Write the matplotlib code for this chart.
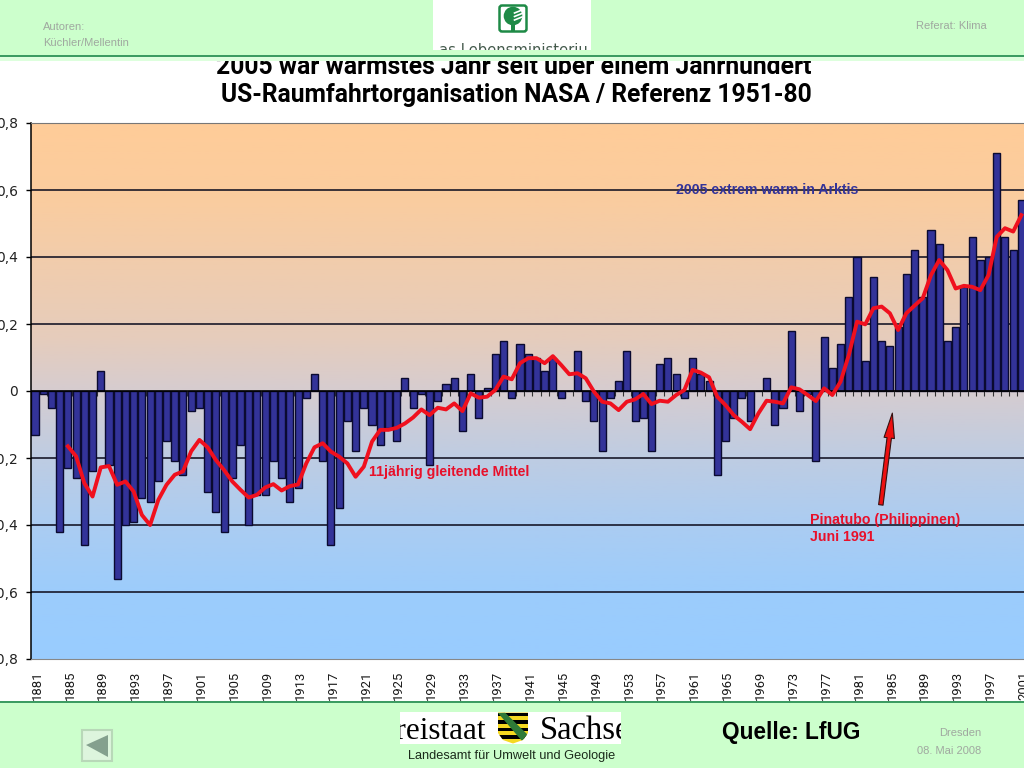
import numpy as np
import matplotlib
matplotlib.use("Agg")
import matplotlib.pyplot as plt
from matplotlib.patches import Rectangle, Circle, Polygon, FancyBboxPatch
from matplotlib.colors import LinearSegmentedColormap
from matplotlib.transforms import ScaledTranslation

years = list(range(1881, 2002))
anomaly = [-0.13, -0.01, -0.05, -0.42, -0.23, -0.26, -0.46, -0.24, 0.06, -0.22,
           -0.56, -0.40, -0.39, -0.32, -0.33, -0.27, -0.15, -0.21, -0.25, -0.06,
           -0.05, -0.30, -0.36, -0.42, -0.26, -0.16, -0.40, -0.31, -0.31, -0.21,
           -0.26, -0.33, -0.29, -0.02, 0.05, -0.21, -0.46, -0.35, -0.09, -0.18,
           -0.05, -0.10, -0.16, -0.11, -0.15, 0.04, -0.05, -0.01, -0.22, -0.03,
           0.02, 0.04, -0.12, 0.05, -0.08, 0.01, 0.11, 0.15, -0.02, 0.14,
           0.11, 0.10, 0.06, 0.10, -0.02, 0.00, 0.12, -0.03, -0.09, -0.18,
           -0.02, 0.03, 0.12, -0.09, -0.08, -0.18, 0.08, 0.10, 0.05, -0.02,
           0.10, 0.05, 0.03, -0.25, -0.15, -0.08, -0.02, -0.09, 0.00, 0.04,
           -0.10, -0.05, 0.18, -0.06, -0.01, -0.21, 0.16, 0.07, 0.14, 0.28,
           0.40, 0.09, 0.34, 0.15, 0.135, 0.19, 0.35, 0.42, 0.28, 0.48,
           0.44, 0.15, 0.19, 0.31, 0.46, 0.39, 0.40, 0.71, 0.46, 0.42, 0.57]

mean_years = list(range(1885, 2002))
running_mean = [-0.165, -0.195, -0.275, -0.315, -0.228, -0.224, -0.28, -0.27, -0.30, -0.37,
                -0.40, -0.325, -0.28, -0.25, -0.24, -0.18, -0.146, -0.168, -0.206, -0.236,
                -0.27, -0.295, -0.318, -0.31, -0.288, -0.278, -0.297, -0.284, -0.279, -0.216,
                -0.168, -0.156, -0.181, -0.196, -0.216, -0.256, -0.226, -0.151, -0.116, -0.116,
                -0.11, -0.097, -0.079, -0.055, -0.072, -0.05, -0.055, -0.037, -0.06, -0.007,
                -0.02, -0.017, 0.003, 0.043, 0.035, 0.083, 0.098, 0.098, 0.083, 0.104,
                0.078, 0.05, 0.053, 0.038, -0.002, -0.032, -0.037, -0.057, -0.032, -0.025,
                -0.009, -0.039, -0.029, -0.032, -0.012, 0.003, 0.063, 0.055, 0.041, -0.017,
                -0.042, -0.072, -0.092, -0.114, -0.067, -0.029, -0.032, -0.037, 0.011, 0.005,
                -0.012, -0.03, 0.008, -0.012, 0.028, 0.107, 0.207, 0.199, 0.247, 0.252,
                0.232, 0.182, 0.232, 0.255, 0.277, 0.346, 0.391, 0.361, 0.306, 0.314,
                0.311, 0.301, 0.346, 0.46, 0.486, 0.476, 0.525]

y_ticks = [0.8, 0.6, 0.4, 0.2, 0, -0.2, -0.4, -0.6, -0.8]
y_labels = ["0,8", "0,6", "0,4", "0,2", "0", "-0,2", "-0,4", "-0,6", "-0,8"]
x_tick_years = years[::4]

W, H = 1024, 768
fig = plt.figure(figsize=(W / 100, H / 100), dpi=100, facecolor="white")

# ---- chart -----
L, R, T, B = 31, 1024, 123, 659
STEP = 8.22
ax = fig.add_axes([L / W, 1 - B / H, (R - L) / W, (B - T) / H], zorder=1)
x0 = 1881 + (L - 35) / STEP
x1 = 1881 + (R - 35) / STEP
ax.set_xlim(x0, x1)
ax.set_ylim(-0.8, 0.8)
ax.set_autoscale_on(False)

cmap = LinearSegmentedColormap.from_list(
    "bg", [(0, "#FFCC99"), (0.13, "#FBCC9E"), (0.4, "#E6CCBC"), (0.5, "#D6CCD0"),
           (0.62, "#BFCCE2"), (0.75, "#ABCCF2"), (0.88, "#9CCCFC"), (1, "#99CCFF")])
ax.imshow(np.linspace(0, 1, 256).reshape(-1, 1), cmap=cmap, aspect="auto",
          extent=[x0, x1, -0.8, 0.8], zorder=0)

ax.hlines([0.6, 0.4, 0.2, -0.2, -0.4, -0.6], x0, x1, color="#111122", lw=1.15, zorder=1)
ax.bar(years, anomaly, width=0.86, color="#333399", edgecolor="#0a0a30", lw=1.0, zorder=2)
ax.vlines(np.array(years) - 0.5, -0.014, 0, color="#333333", lw=0.8, zorder=1.5)
ax.axhline(0, color="black", lw=1.2, zorder=3)
ax.plot(mean_years, running_mean, color="#F0101E", lw=2.8, solid_joinstyle="round", zorder=4)

ax.spines["right"].set_visible(False)
ax.spines["left"].set_color("black")
ax.spines["left"].set_linewidth(1.1)
ax.spines["top"].set_color("#777777")
ax.spines["bottom"].set_color("#888888")

ax.set_yticks(y_ticks)
ax.set_yticklabels(y_labels, fontsize=10, color="#222222")
ax.tick_params(axis="y", length=3.6, width=1.0, pad=5.8, color="black")
ax.set_xticks(x_tick_years)
ax.set_xticklabels([str(y) for y in x_tick_years], rotation=90, fontsize=9.4,
                   family="Roboto", color="#1a1a1a")
ax.tick_params(axis="x", length=0, pad=8.2)
shift = ScaledTranslation(1.5 / 72, 0, fig.dpi_scale_trans)
for lab in ax.get_xticklabels():
    lab.set_transform(lab.get_transform() + shift)

ax.annotate("", xy=(1985.3, -0.066), xytext=(1983.9, -0.34),
            arrowprops=dict(arrowstyle="simple,head_length=1.8,head_width=0.75,tail_width=0.32",
                            mutation_scale=10, fc="#EE1010", ec="#331111", lw=0.8,
                            shrinkA=0, shrinkB=0), zorder=6)

# ---- slide decoration in pixel coordinates -----
ov = fig.add_axes([0, 0, 1, 1], zorder=2)
ov.set_xlim(0, W)
ov.set_ylim(H, 0)
ov.axis("off")
ov.patch.set_alpha(0)

note = dict(family="Liberation Sans", weight="bold", fontsize=10.2, zorder=5, va="center", ha="left")
ov.text(676, 190, "2005 extrem warm in Arktis", color="#333399", **note)
ov.text(369, 472, "11jährig gleitende Mittel", color="#E8102A", **note)
ov.text(810, 520, "Pinatubo (Philippinen)", color="#E8102A", **note)
ov.text(810, 537, "Juni 1991", color="#E8102A", **note)

GREEN = "#CCFFCC"
ov.text(513.5, 74, "2005 war warmstes Jahr seit über einem Jahrhundert",
        family="Roboto", weight="bold", fontsize=17.8, ha="center", va="baseline", color="black", zorder=1)
ov.text(516, 102, "US-Raumfahrtorganisation NASA / Referenz 1951-80",
        family="Roboto", weight="bold", fontsize=17.7, ha="center", va="baseline", color="black", zorder=1)

ov.add_patch(Rectangle((0, 0), W, 55, fc=GREEN, ec="none", zorder=2))
ov.add_patch(Rectangle((0, 57), W, 4, fc="#DDFFDD", ec="none", zorder=2))
ov.add_patch(Rectangle((0, 55), W, 2, fc="#3C9C62", ec="none", zorder=3))
ov.add_patch(Rectangle((0, 703), W, H - 703, fc=GREEN, ec="none", zorder=2))
ov.add_patch(Rectangle((0, 701), W, 2, fc="#3C9C62", ec="none", zorder=3))

small = dict(family="Liberation Sans", fontsize=8, color="#A0A8A0", zorder=4, va="center")
ov.text(43, 27, "Autoren:", **small)
ov.text(43, 43.5, "Küchler/Mellentin", **small)
ov.text(987, 26, "Referat: Klima", ha="right", **small)
ov.text(981, 733.5, "Dresden", ha="right", **small)
ov.text(981, 751.5, "08. Mai 2008", ha="right", **small)

# top logo
ov.add_patch(Rectangle((433, 0), 158, 50, fc="white", ec="none", zorder=4))
ov.add_patch(FancyBboxPatch((499.5, 5.5), 27, 26, boxstyle="round,pad=0,rounding_size=2.5",
                            fc="white", ec="#1E8A46", lw=1.8, zorder=5))
ov.add_patch(Circle((513, 16), 9.3, fc="#1E8A46", ec="none", zorder=6))
ov.add_patch(Rectangle((510.5, 22), 4.5, 9, fc="#1E8A46", ec="none", zorder=6))
for yy in (11.5, 15, 18.5):
    ov.plot([514.5, 522], [yy + 1.5, yy - 1.5], color="white", lw=1.2, zorder=7)
t = ov.text(513, 55, "as Lebensministeriu", family="DejaVu Sans", fontsize=10.6,
            ha="center", va="baseline", color="#445a4c", zorder=5)
t.set_clip_on(True)
t.set_clip_path(Rectangle((433, 0), 158, 50, transform=ov.transData))

# bottom logo
ov.add_patch(Rectangle((400, 712), 221, 32, fc="white", ec="none", zorder=4))
clip = Rectangle((400, 712), 221, 32, transform=ov.transData)
for txt, xx, ha_, fs in (("Freistaat", 486, "right", 22.5), ("Sachsen", 540, "left", 23.5)):
    tt = ov.text(xx, 739, txt, family="Liberation Serif", fontsize=fs, ha=ha_, va="baseline",
                 color="black", zorder=5)
    tt.set_clip_on(True)
    tt.set_clip_path(clip)
shield = [(498, 712.5), (528, 712.5), (528, 733), (523, 740), (513, 743.5), (503, 740), (498, 733)]
sp = Polygon(shield, closed=True, fc="#F5D820", ec="none", zorder=5)
ov.add_patch(sp)
for yy in (712.5, 720, 727.5, 735):
    r = Rectangle((498, yy), 30, 3.6, fc="black", ec="none", zorder=6)
    ov.add_patch(r)
    r.set_clip_path(sp)
band = Polygon([(498, 713), (505, 712.5), (528, 735), (522, 741)], closed=True, fc="#2F7A38", ec="none", zorder=7)
ov.add_patch(band)
band.set_clip_path(sp)

ov.text(512, 756, "Landesamt für Umwelt und Geologie", family="Liberation Sans", fontsize=9.2,
        ha="center", va="center", color="#1a2a1a", zorder=5)
ov.text(791, 732, "Quelle: LfUG", family="Liberation Sans", weight="bold", fontsize=16.3,
        ha="center", va="center", color="black", zorder=5)

# back button
ov.add_patch(Rectangle((82, 730), 30, 31, fc="#DDF5DD", ec="#B8D8B8", lw=1.5, zorder=4))
ov.add_patch(Polygon([(86, 745), (108, 735), (108, 757)], closed=True, fc="#84A08E", ec="none", zorder=5))

fig.savefig("out.png", dpi=100)
